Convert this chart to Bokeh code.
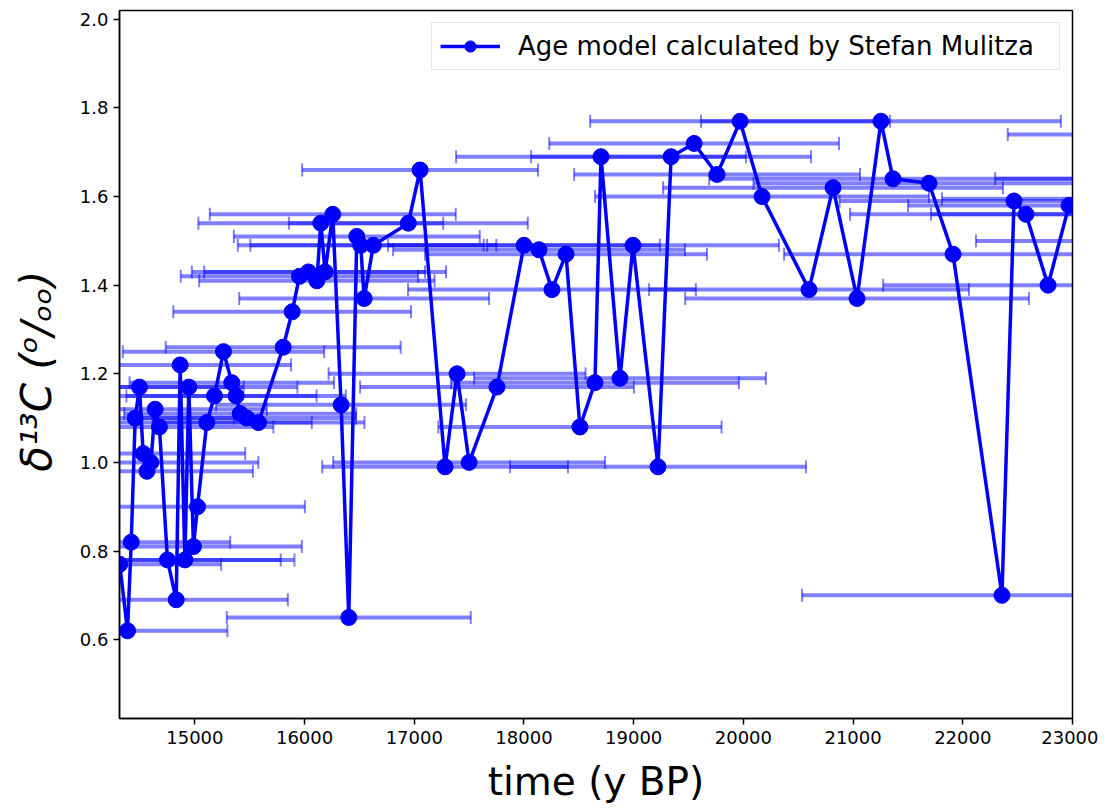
import math
from bokeh.plotting import figure
from bokeh.models import (Range1d, ColumnDataSource, Legend, LegendItem, FixedTicker,
                          PrintfTickFormatter, BasicTickFormatter)
from bokeh.embed import file_html
from bokeh.resources import INLINE

# ---- data ----
age = [14315, 14386, 14420, 14456, 14495, 14529, 14563, 14599, 14638, 14677,
       14750, 14830, 14866, 14909, 14945, 14987, 15024, 15109, 15179, 15261,
       15337, 15376, 15413, 15474, 15580, 15805, 15887, 15953, 16035, 16112,
       16148, 16187, 16257, 16333, 16403, 16476, 16512, 16543, 16627, 16946,
       17053, 17281, 17390, 17500, 17754, 18000, 18137, 18255, 18383, 18510,
       18647, 18702, 18875, 18994, 19222, 19341, 19551, 19760, 19970, 20170,
       20598, 20817, 21036, 21254, 21364, 21692, 21911, 22357, 22467, 22576,
       22777, 22968, 23350, 23460, 23770, 23945, 24060]
d13c = [0.77, 0.62, 0.82, 1.10, 1.17, 1.02, 0.98, 1.00, 1.12, 1.08,
        0.78, 0.69, 1.22, 0.78, 1.17, 0.81, 0.90, 1.09, 1.15, 1.25,
        1.18, 1.15, 1.11, 1.10, 1.09, 1.26, 1.34, 1.42, 1.43, 1.41,
        1.54, 1.43, 1.56, 1.13, 0.65, 1.51, 1.49, 1.37, 1.49, 1.54,
        1.66, 0.99, 1.20, 1.00, 1.17, 1.49, 1.48, 1.39, 1.47, 1.08,
        1.18, 1.69, 1.19, 1.49, 0.99, 1.69, 1.72, 1.65, 1.77, 1.60,
        1.39, 1.62, 1.37, 1.77, 1.64, 1.63, 1.47, 0.70, 1.59, 1.56,
        1.40, 1.58, 1.56, 1.595, 1.50, 1.64, 1.74]
age_err = [925, 911, 902, 900, 950, 930, 966, 980, 1018, 1039,
           1033, 1018, 1011, 999, 990, 988, 979, 957, 930, 918,
           932, 1000, 1057, 995, 966, 1071, 1084, 1082, 1063, 1073,
           1116, 1102, 1121, 1139, 1112, 1121, 1121, 1139, 1121, 1089,
           1075, 1120, 1171, 1239, 1248, 1239, 1330, 1312, 1285, 1291,
           1312, 1321, 1330, 1330, 1349, 1276, 1321, 1303, 1367, 1522,
           1458, 1549, 1567, 1640, 1676, 1600, 1540, 1822, 1590, 1604,
           1503, 1467, 1640, 1650, 1650, 1650, 1650]

xticks = [15000, 16000, 17000, 18000, 19000, 20000, 21000, 22000, 23000]
yticks = [0.6, 0.8, 1.0, 1.2, 1.4, 1.6, 1.8, 2.0]
legend_label = "Age model calculated by Stefan Mulitza"
x_label = "time (y BP)"
y_label = "\u03b4\u00b9\u00b3C  (\u1d52/\u2092\u2092)"

lo = [a - e for a, e in zip(age, age_err)]
hi = [a + e for a, e in zip(age, age_err)]
src = ColumnDataSource(dict(age=age, d13c=d13c, lo=lo, hi=hi))

FONT = "DejaVu Sans"
BLUE = "#0000ff"

p = figure(width=1098, height=806, output_backend="svg", toolbar_location=None,
           x_range=Range1d(14313, 23000), y_range=Range1d(0.422, 2.02),
           min_border_left=119, min_border_top=10, min_border_right=26, min_border_bottom=86)
p.background_fill_color = "white"
p.border_fill_color = "white"
p.outline_line_color = "black"
p.outline_line_width = 1.5
p.xgrid.visible = False
p.ygrid.visible = False

# error bars
p.segment(x0="lo", y0="d13c", x1="hi", y1="d13c", source=src,
          line_color=BLUE, line_alpha=0.5, line_width=4)
p.scatter(x="lo", y="d13c", source=src, marker="dash", angle=math.pi / 2, size=13,
          line_color=BLUE, line_alpha=0.5, line_width=2, fill_alpha=0)
p.scatter(x="hi", y="d13c", source=src, marker="dash", angle=math.pi / 2, size=13,
          line_color=BLUE, line_alpha=0.5, line_width=2, fill_alpha=0)

lr = p.line(x="age", y="d13c", source=src, line_color=BLUE, line_width=3.5)
sr = p.scatter(x="age", y="d13c", source=src, marker="circle", size=16,
               fill_color=BLUE, line_color=BLUE)

legend = Legend(items=[LegendItem(label=legend_label, renderers=[lr, sr])],
                location="top_right", margin=12, padding=8,
                label_text_font=FONT, label_text_font_size="26px", label_text_color="black",
                glyph_width=60, glyph_height=28, label_standoff=18, label_width=533,
                border_line_color="#cccccc", border_line_width=1.5,
                background_fill_alpha=0.8)
p.add_layout(legend)

for ax in (p.xaxis[0], p.yaxis[0]):
    ax.axis_line_color = "black"
    ax.axis_line_width = 1.5
    ax.major_tick_line_color = "black"
    ax.major_tick_line_width = 1.5
    ax.major_tick_in = 0
    ax.major_tick_out = 6
    ax.minor_tick_line_color = None
    ax.major_label_text_font = FONT
    ax.major_label_text_font_size = "18px"
    ax.major_label_text_color = "black"
    ax.axis_label_text_font = FONT
    ax.axis_label_text_color = "black"
    ax.axis_label_text_font_style = "normal"

p.xaxis.ticker = FixedTicker(ticks=xticks)
p.xaxis.formatter = BasicTickFormatter(use_scientific=False)
p.xaxis.major_label_standoff = 6
p.xaxis.axis_label = x_label
p.xaxis.axis_label_text_font_size = "39px"
p.xaxis.axis_label_standoff = 12

p.yaxis.ticker = FixedTicker(ticks=yticks)
p.yaxis.formatter = PrintfTickFormatter(format="%.1f")
p.yaxis.major_label_standoff = 5
p.yaxis.axis_label = y_label
p.yaxis.axis_label_text_font_size = "42px"
p.yaxis.axis_label_text_font_style = "italic"
p.yaxis.axis_label_standoff = 16

open("out.html", "w").write(file_html(p, INLINE))
